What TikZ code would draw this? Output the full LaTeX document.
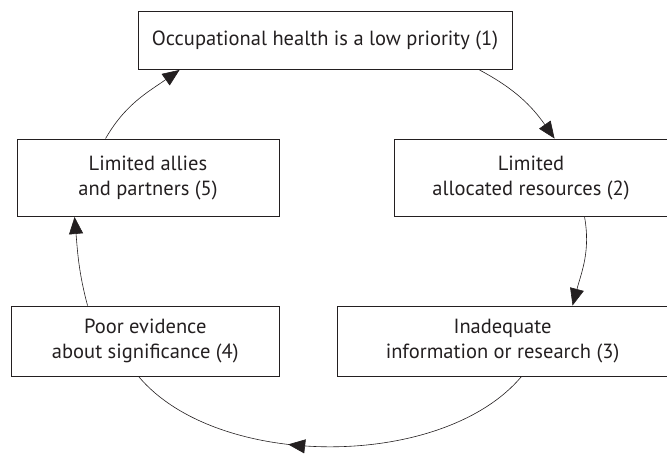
\documentclass[tikz,border=0pt]{standalone}
\usepackage{fontspec}
\setmainfont{PT Sans}
\usetikzlibrary{arrows.meta,decorations.markings}
\definecolor{ink}{HTML}{231F20}
\begin{document}
\begin{tikzpicture}[x=1pt,y=1pt,
  box/.style={draw=ink,line width=0.9pt,rectangle,align=center,
    text=ink,inner sep=0pt,font=\fontsize{20.5}{25.5}\selectfont},
  link/.style={draw=ink,line width=0.6pt,
    -{Triangle[length=17pt,width=14pt]}},
  midlink/.style={draw=ink,line width=0.6pt,
    postaction={decorate},
    decoration={markings,
      mark=at position 0.6 with {\arrow{Triangle[length=17pt,width=14pt]}}}}]
\useasboundingbox (0,0) rectangle (667,453);

\node[box,minimum width=374pt,minimum height=58pt] (b1) at (325,412.5)
  {Occupational health is a low priority (1)};
\node[box,minimum width=274pt,minimum height=77.5pt] (b2) at (531,275.25)
  {Limited\\allocated resources (2)};
\node[box,minimum width=331pt,minimum height=70pt] (b3) at (502.5,112)
  {Inadequate\\information or research (3)};
\node[box,minimum width=268.5pt,minimum height=70pt] (b4) at (145.25,112)
  {Poor evidence\\about significance (4)};
\node[box,minimum width=262pt,minimum height=77.5pt] (b5) at (148,275.25)
  {Limited allies\\and partners (5)};

% the cycle of connectors
\draw[link] ([xshift=-33pt]b1.south east) to[out=-28,in=125] ([xshift=161pt]b2.north west);
\draw[link] ([xshift=191pt]b2.south west) to[out=-80,in=75] ([xshift=236pt]b3.north west);
\draw[midlink] ([xshift=185pt]b3.south west) to[out=-130,in=-50,looseness=0.82] ([xshift=128pt]b4.south west);
\draw[link] ([xshift=77pt]b4.north west) to[out=105,in=-85] ([xshift=58pt]b5.south west);
\draw[link] ([xshift=89pt]b5.north west) to[out=60,in=-145] ([xshift=42pt]b1.south west);
\end{tikzpicture}
\end{document}
